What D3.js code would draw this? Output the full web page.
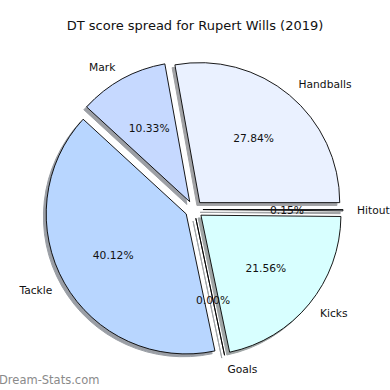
<!DOCTYPE html>
<html lang="en">
<head>
    <meta charset="UTF-8">
    <script src="https://d3js.org/d3.v7.min.js"></script>
    <title>DT score spread</title>
    <style>
        body { margin: 0; background: #fff; }
        text { font-family: "DejaVu Sans", sans-serif; }
    </style>
</head>
<body>
    <div id="pie"></div>
    <script>
        const labels = ["Handballs", "Mark", "Tackle", "Goals", "Kicks", "Hitout"];
        const values = [27.84, 10.33, 40.12, 0.00, 21.56, 0.15];
        const colors = ["#eaf1ff", "#c6d9ff", "#b8d6ff", "#d6f0ff", "#d8ffff", "#e0eeff"];
        const title = "DT score spread for Rupert Wills (2019)";

        const width = 390;
        const height = 390;
        const cx = 194;
        const cy = 209.5;
        const radius = 140;
        const explode = 0.064 * radius; // offset of every wedge
        const shadowOff = 0.02 * radius;

        const svg = d3.select("#pie")
            .append("svg")
            .attr("width", width)
            .attr("height", height);

        svg.append("text")
            .attr("x", width / 2)
            .attr("y", 29.5)
            .attr("text-anchor", "middle")
            .attr("font-size", 13)
            .attr("fill", "#111")
            .text(title);

        // matplotlib style: start at 3 o'clock, counter clockwise
        const pie = d3.pie()
            .sort(null)
            .startAngle(Math.PI / 2)
            .endAngle(Math.PI / 2 - 2 * Math.PI);

        const arcs = pie(values).map((d, i) => {
            const mid = (d.startAngle + d.endAngle) / 2;
            return {
                arc: d,
                label: labels[i],
                color: colors[i],
                dx: Math.sin(mid),
                dy: -Math.cos(mid)
            };
        });

        const arc = d3.arc().innerRadius(0).outerRadius(radius);
        const total = d3.sum(values);

        const g = svg.append("g").attr("transform", `translate(${cx},${cy})`);

        // shadows first
        g.selectAll(".shadow")
            .data(arcs)
            .join("path")
            .attr("class", "shadow")
            .attr("transform", d => `translate(${d.dx * explode + (-shadowOff)},${d.dy * explode + shadowOff})`)
            .attr("d", d => arc(d.arc))
            .attr("fill", d => {
                const c = d3.rgb(d.color);
                return d3.rgb(c.r * 0.3, c.g * 0.3, c.b * 0.3);
            })
            .attr("stroke", d => {
                const c = d3.rgb(d.color);
                return d3.rgb(c.r * 0.3, c.g * 0.3, c.b * 0.3);
            })
            .attr("stroke-width", 1)
            .attr("opacity", 0.5);

        g.selectAll(".wedge")
            .data(arcs)
            .join("path")
            .attr("class", "wedge")
            .attr("transform", d => `translate(${d.dx * explode},${d.dy * explode})`)
            .attr("d", d => arc(d.arc))
            .attr("fill", d => d.color)
            .attr("stroke", "#000")
            .attr("stroke-width", 0.9)
            .attr("stroke-linejoin", "miter");

        // outer labels
        g.selectAll(".label")
            .data(arcs)
            .join("text")
            .attr("class", "label")
            .attr("x", d => d.dx * (1.1 * radius + explode))
            .attr("y", d => d.dy * (1.1 * radius + explode))
            .attr("dy", "0.36em")
            .attr("text-anchor", d => d.dx > 0 ? "start" : "end")
            .attr("font-size", 10.7)
            .attr("fill", "#111")
            .text(d => d.label);

        // percentages
        g.selectAll(".pct")
            .data(arcs)
            .join("text")
            .attr("class", "pct")
            .attr("x", d => d.dx * (0.6 * radius + explode))
            .attr("y", d => d.dy * (0.6 * radius + explode))
            .attr("dy", "0.36em")
            .attr("text-anchor", "middle")
            .attr("font-size", 10.7)
            .attr("fill", "#111")
            .text(d => (d.arc.value / total * 100).toFixed(2) + "%");

        svg.append("text")
            .attr("x", -1)
            .attr("y", 384)
            .attr("font-size", 11.5)
            .attr("fill", "#8a8a8a")
            .text("Dream-Stats.com");
    </script>
</body>
</html>
